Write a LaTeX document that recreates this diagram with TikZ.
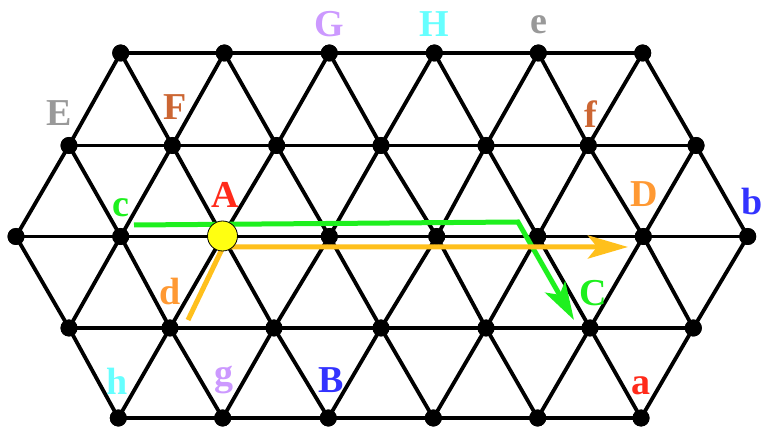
\documentclass[tikz,border=0pt]{standalone}
\usepackage{fontspec}
\setmainfont{Liberation Serif}
\usetikzlibrary{arrows.meta}
\definecolor{cgreen}{HTML}{1EF01E}
\definecolor{cgold}{HTML}{FFC01C}
\definecolor{cred}{HTML}{FF2A1A}
\definecolor{cblue}{HTML}{3333FF}
\definecolor{clav}{HTML}{CC99FF}
\definecolor{ccyan}{HTML}{66FFFF}
\definecolor{cgray}{HTML}{999999}
\definecolor{cbrown}{HTML}{CC6633}
\definecolor{corange}{HTML}{FF9933}
\definecolor{cyell}{HTML}{FFFF11}
\begin{document}
\begin{tikzpicture}[x=1pt,y=-1pt,
  dot/.style={circle,fill=black,inner sep=0pt,minimum size=17pt},
  edge/.style={line width=3.8pt,black},
  lbl/.style={anchor=base,inner sep=0pt,font=\fontsize{38}{40}\selectfont\bfseries},
  pathg/.style={line width=5pt,cgreen,-{Stealth[length=38pt,width=23pt,inset=9pt]}},
  patho/.style={line width=5pt,cgold,-{Stealth[length=40pt,width=23pt,inset=9pt]}},
  bignode/.style={circle,fill=cyell,draw=black,line width=0.8pt,inner sep=0pt,minimum size=30pt}]
\useasboundingbox (0,0) rectangle (763,427);
% lattice nodes
\foreach \x [count=\i from 0] in {120.7,224.3,329.3,434.3,538.3,642.7}
  \node[dot] (r0c\i) at (\x,53) {};
\foreach \x [count=\i from 0] in {69,172.3,276.7,381,486,588.3,696}
  \node[dot] (r1c\i) at (\x,145.5) {};
\foreach \x [count=\i from 0] in {16,120.7,222.7,329.3,436.7,537.7,643.3,747.7}
  \node[dot] (r2c\i) at (\x,236.5) {};
\foreach \x [count=\i from 0] in {69,170,274,381,486,590,693.3}
  \node[dot] (r3c\i) at (\x,328) {};
\foreach \x [count=\i from 0] in {118.3,222.7,328.3,433.3,537.7,641}
  \node[dot] (r4c\i) at (\x,418) {};
% horizontal edges
\foreach \i [evaluate=\i as \j using int(\i+1)] in {0,...,4} {
  \draw[edge] (r0c\i.center) -- (r0c\j.center);
  \draw[edge] (r4c\i.center) -- (r4c\j.center);
}
\foreach \i [evaluate=\i as \j using int(\i+1)] in {0,...,5} {
  \draw[edge] (r1c\i.center) -- (r1c\j.center);
  \draw[edge] (r3c\i.center) -- (r3c\j.center);
}
\foreach \i [evaluate=\i as \j using int(\i+1)] in {0,...,6}
  \draw[edge] (r2c\i.center) -- (r2c\j.center);
% diagonal edges
\foreach \i [evaluate=\i as \j using int(\i+1)] in {0,...,5} {
  \draw[edge] (r0c\i.center) -- (r1c\i.center);
  \draw[edge] (r0c\i.center) -- (r1c\j.center);
  \draw[edge] (r4c\i.center) -- (r3c\i.center);
  \draw[edge] (r4c\i.center) -- (r3c\j.center);
}
\foreach \i [evaluate=\i as \j using int(\i+1)] in {0,...,6} {
  \draw[edge] (r1c\i.center) -- (r2c\i.center);
  \draw[edge] (r1c\i.center) -- (r2c\j.center);
  \draw[edge] (r3c\i.center) -- (r2c\i.center);
  \draw[edge] (r3c\i.center) -- (r2c\j.center);
}
% redraw dots on top
\foreach \r/\n in {0/5,1/6,2/7,3/6,4/5}
  \foreach \i in {0,...,\n}
    \fill (r\r c\i) circle (8.5pt);
% paths
\coordinate (g0) at (134,225);
\coordinate (g1) at (518,222);
\coordinate (g2) at (574,320);
\draw[pathg] (g0) -- (g1) -- (g2);
\coordinate (o0) at (188,320);
\coordinate (o1) at (223,247);
\coordinate (o2) at (628,247);
\draw[patho] (o0) -- (o1) -- (o2);
\node[bignode] (A) at (222.5,236) {};
% labels
\node[lbl,text=clav] (lG) at (329,37) {G};
\node[lbl,text=ccyan] (lH) at (434,37) {H};
\node[lbl,text=cgray] (le) at (538.5,34) {e};
\node[lbl,text=cgray] (lE) at (59,126) {E};
\node[lbl,text=cbrown] (lF) at (175,120) {F};
\node[lbl,text=cbrown] (lf) at (591,128) {f};
\node[lbl,text=cgreen] (lc) at (121,217) {c};
\node[lbl,text=cred] (lA) at (225,208) {A};
\node[lbl,text=corange] (lD) at (644,207) {D};
\node[lbl,text=cblue] (lb) at (752,215) {b};
\node[lbl,text=corange] (ld) at (170,305) {d};
\node[lbl,text=cgreen] (lC) at (593,306) {C};
\node[lbl,text=ccyan] (lh) at (117,395) {h};
\node[lbl,text=clav] (lg) at (224,386) {g};
\node[lbl,text=cblue] (lB) at (331,392) {B};
\node[lbl,text=cred] (la) at (641,395) {a};
\end{tikzpicture}
\end{document}
